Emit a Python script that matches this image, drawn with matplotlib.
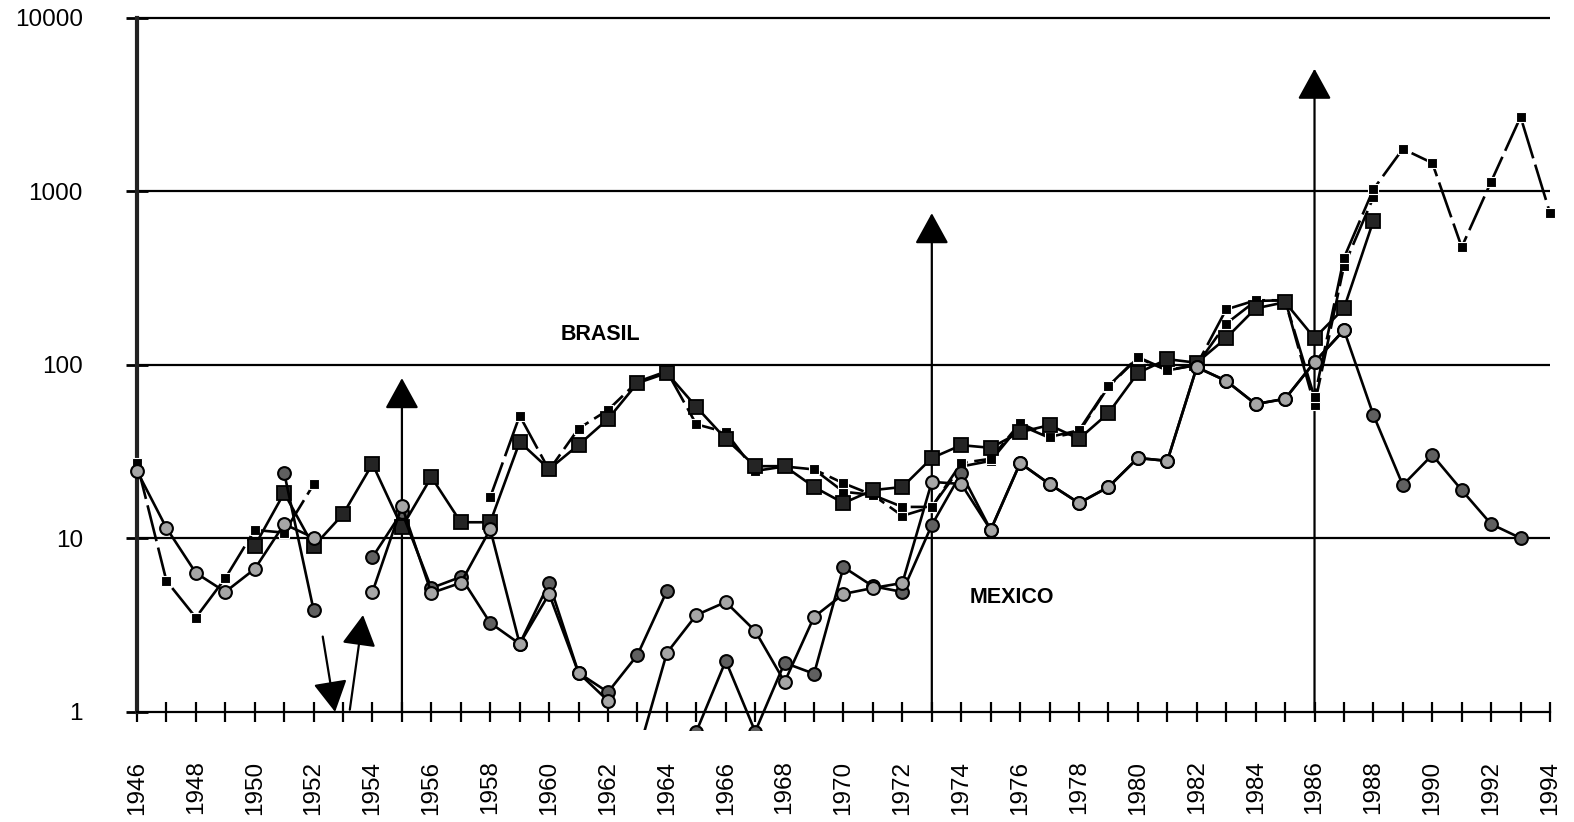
import numpy as np
import matplotlib
matplotlib.use("Agg")
import matplotlib.pyplot as plt
from matplotlib.ticker import FixedLocator, FixedFormatter, NullLocator

plt.rcParams['font.family'] = ['Liberation Sans', 'DejaVu Sans']

nan = np.nan
years = np.arange(1946, 1995)

# Brasil, small black squares (dashed) - series A
br_a = [27.2, 5.7, 3.5, 5.9, 11.2, 10.8, 20.5,
        nan, nan, nan, nan, nan,
        17.3, 51, 24.8, 43, 55, 80, 92, 45.5, 41, 24.5, 26, 25, 20.8, 17.8,
        15.2, 15.2, 27.2, 28.8, 46.3, 38.5, 42, 75.6, 111, 93.5, 100, 209,
        236, 236, 65, 414, 1030, 1760, 1460, 478, 1140, 2690, 750]
# Brasil, small black squares (dashed) - series B
br_b = [nan] * 23 + [25, 18.6, 17.8, 13.5, 15.2, 26, 28, 45, 38, 41, 75, 110,
                     93, 100, 173, 234, 236, 58.6, 372, 925] + [nan] * 6
# Brasil, large dark squares (solid)
br_big = [nan] * 4 + [9.06, 18.3, 9.0, 13.8, 26.9, 11.6, 22.6, 12.4, 12.4, 36,
                      25.1, 34.6, 48.8, 78.6, 89.9, 57.3, 37.5, 26.1, 26.1,
                      19.8, 16, 19.0, 19.8, 29.1, 34.5, 33.3, 41, 45, 37.5,
                      52.8, 90, 108, 103, 143, 212, 230, 143, 212, 678] + [nan] * 6
# Mexico, light grey circles
mx_light_a = [24.5, 11.5, 6.33, 4.92, 6.67, 12.1, 10.1, nan, 4.92, 15.4, 4.85,
              5.55, 11.3, 2.47, 4.79, 1.68, 1.16] + [nan] * 32
mx_light_b = [nan] * 17 + [0.56, 2.19, 3.62, 4.3, 2.93, 1.49, 3.53, 4.79, 5.18,
                           5.54, 21.2, 20.6, 11.2, 27.2, 20.6, 16.0, 19.8, 29.1,
                           28.0, 97, 81, 59.5, 63.8, 104, 159] + [nan] * 7
# Mexico, dark grey circles
mx_dark_a = [nan] * 5 + [23.9, 3.87, nan, 7.8, 14.2, 5.18, 6.0, 3.26, 2.47,
                         5.54, 1.68, 1.30, 2.13, 4.98] + [nan] * 30
mx_dark_b = [nan] * 19 + [0.77, 1.97, 0.77, 1.92, 1.66, 6.84, 5.3, 4.92, 11.95,
                          23.8, 11.2, 27.2, 20.6, 16.0, 19.8, 29.1, 28.0, 97,
                          81, 59.5, 63.8, 104, 159, 51.5, 20.3, 30.3, 19.0,
                          12.1, 10.05] + [nan]

# annotation arrows: (tail x, tail y, tip x, tip y)
arrows = [(1955, 1, 1955, 84),
          (1973, 1, 1973, 750),
          (1986, 1, 1986, 5100),
          (1952.31, 2.72, 1952.73, 1.0),
          (1953.23, 1.03, 1953.68, 3.62)]

ytick_vals = [1, 10, 100, 1000, 10000]
ytick_labels = ['1', '10', '100', '1000', '10000']
grid_vals = [10, 100, 1000, 10000]

fig = plt.figure(figsize=(15.74, 8.22), dpi=100)
ax = fig.add_axes([0.07954, 0.11192, 0.91271, 0.87835])
ax.set_yscale('log')
ax.set_xlim(1945.6, 1994.4)
ax.set_ylim(0.787, 10 ** (4 + 10 / 173.5))

ax.hlines(grid_vals, 1946, 1994, colors='black', lw=1.6, zorder=1)

for (x0, y0, x1, y1) in arrows:
    ax.annotate('', xy=(x1, y1), xytext=(x0, y0),
                arrowprops=dict(arrowstyle='-|>,head_length=0.4,head_width=0.22',
                                mutation_scale=48, lw=1.6, color='black',
                                shrinkA=0, shrinkB=0), zorder=1.5)

dash = (0, (14, 2.5))
ax.plot(years, br_b, color='black', lw=1.9, ls=dash, marker='s', ms=7.5,
        mfc='black', mec='white', mew=0.8, zorder=3)
ax.plot(years, br_a, color='black', lw=1.9, ls=dash, marker='s', ms=7.5,
        mfc='black', mec='white', mew=0.8, zorder=3.1)
ax.plot(years, br_big, color='black', lw=1.9, marker='s', ms=10.5,
        mfc='#242424', mec='black', mew=1.3, zorder=3.2)
for arr in (mx_dark_a, mx_dark_b):
    ax.plot(years, arr, color='black', lw=1.9, marker='o', ms=9.2,
            mfc='#606060', mec='black', mew=1.5, zorder=3.3)
for arr in (mx_light_a, mx_light_b):
    ax.plot(years, arr, color='black', lw=1.9, marker='o', ms=9.2,
            mfc='#a6a6a6', mec='black', mew=1.5, zorder=3.4)

ax.text(1961.76, 149, 'BRASIL', fontsize=15.5, fontweight='bold',
        ha='center', va='center')
ax.text(1975.72, 4.54, 'MEXICO', fontsize=15.5, fontweight='bold',
        ha='center', va='center')

# spines
for s in ('top', 'right'):
    ax.spines[s].set_visible(False)
ax.spines['left'].set_position(('data', 1946))
ax.spines['left'].set_bounds(1, 10000)
ax.spines['left'].set_linewidth(3)
ax.spines['left'].set_color('#222222')
ax.spines['bottom'].set_position(('data', 1))
ax.spines['bottom'].set_bounds(1946, 1994)
ax.spines['bottom'].set_linewidth(1.6)

ax.xaxis.set_major_locator(FixedLocator(list(range(1946, 1995, 2))))
ax.xaxis.set_minor_locator(FixedLocator(list(range(1947, 1995, 2))))
ax.set_xticklabels([str(y) for y in range(1946, 1995, 2)])
ax.tick_params(axis='x', which='both', direction='inout', length=14,
               width=1.6, pad=28, labelsize=17.5, labelrotation=90)

ax.yaxis.set_major_locator(FixedLocator(ytick_vals))
ax.yaxis.set_major_formatter(FixedFormatter(ytick_labels))
ax.yaxis.set_minor_locator(NullLocator())
ax.tick_params(axis='y', which='major', direction='inout', length=16,
               width=2, pad=31, labelsize=17.5)

fig.savefig('out.png', dpi=100)
